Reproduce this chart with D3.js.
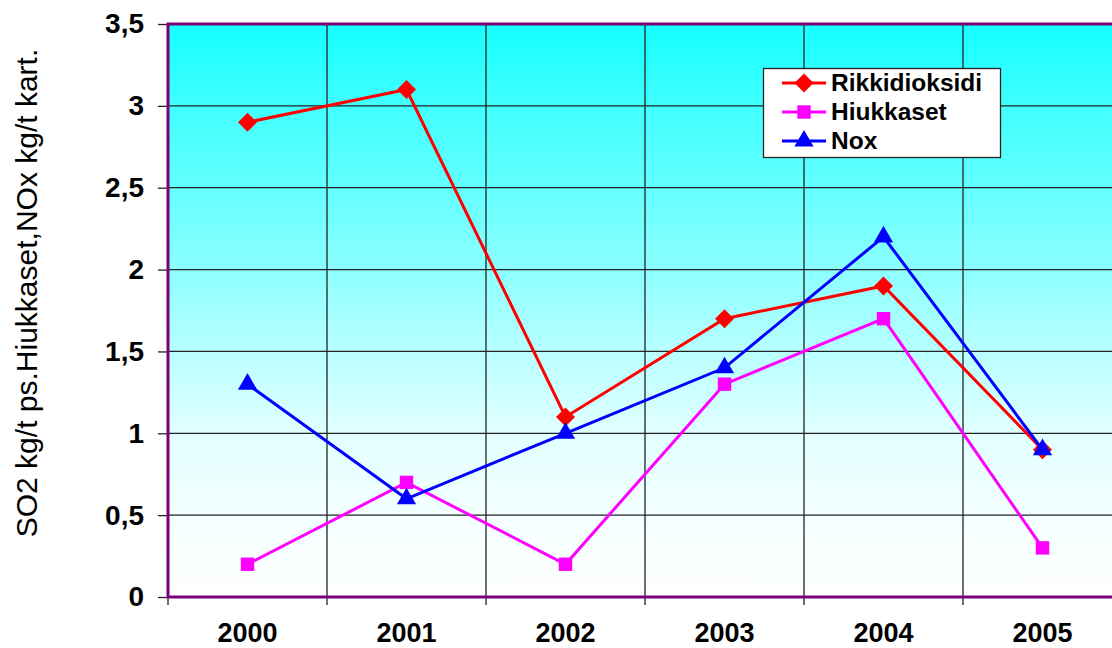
<!DOCTYPE html>
<html><head><meta charset="utf-8">
<script src="https://cdn.jsdelivr.net/npm/d3@7"></script>
<style>body{margin:0;background:#fff;}svg{display:block;}</style>
</head><body>
<svg id="c" width="1112" height="648"></svg>
<script>
const years = ["2000","2001","2002","2003","2004","2005"];
const rikki = [2.9, 3.1, 1.1, 1.7, 1.9, 0.9];
const hiukkaset = [0.2, 0.7, 0.2, 1.3, 1.7, 0.3];
const nox = [1.3, 0.6, 1.0, 1.4, 2.2, 0.9];
const yTicks = [0, 0.5, 1, 1.5, 2, 2.5, 3, 3.5];
const yTickLabels = ["0","0,5","1","1,5","2","2,5","3","3,5"];
const seriesNames = ["Rikkidioksidi","Hiukkaset","Nox"];

const series = [
  {name: seriesNames[0], values: rikki, color: "#ff0000", sym: d3.symbolDiamond2, size: 230},
  {name: seriesNames[1], values: hiukkaset, color: "#ff00ff", sym: d3.symbolSquare, size: 180},
  {name: seriesNames[2], values: nox, color: "#0000ff", sym: d3.symbolTriangle, size: 160}
];

const FONT = "Liberation Sans, Arial, sans-serif";
const svg = d3.select("#c");
const L = 168, T = 24, B = 597, bandW = 159;
const R = L + bandW * years.length;
const x = d3.scaleBand().domain(years).range([L, R]);
const y = d3.scaleLinear().domain([0, 3.5]).range([B, T]);

const defs = svg.append("defs");
const g = defs.append("linearGradient").attr("id","bg").attr("x1",0).attr("y1",0).attr("x2",0).attr("y2",1);
[["0%","#14ffff"],["14%","#40ffff"],["28%","#62ffff"],["43%","#8cffff"],["57%","#b8ffff"],["71%","#e0ffff"],["86%","#f4ffff"],["100%","#ffffff"]]
  .forEach(s=>g.append("stop").attr("offset",s[0]).attr("stop-color",s[1]));

svg.append("rect").attr("x",L).attr("y",T).attr("width",R-L).attr("height",B-T).attr("fill","url(#bg)");

// gridlines
svg.append("g").selectAll("line").data(yTicks.slice(1,-1)).join("line")
  .attr("x1",L).attr("x2",R).attr("y1",d=>y(d)).attr("y2",d=>y(d))
  .attr("stroke","#222").attr("stroke-width",1.3);
svg.append("g").selectAll("line").data(years.slice(1)).join("line")
  .attr("x1",d=>x(d)).attr("x2",d=>x(d)).attr("y1",T).attr("y2",B+8)
  .attr("stroke","#222").attr("stroke-width",1.3);
svg.append("line").attr("x1",L).attr("x2",L).attr("y1",B).attr("y2",B+8).attr("stroke","#222").attr("stroke-width",1.3);

// y ticks
const yAxis = d3.axisLeft(y).tickValues(yTicks).tickFormat((d,i)=>yTickLabels[i]).tickSize(10).tickPadding(14);
const ya = svg.append("g").attr("transform",`translate(${L},0)`).call(yAxis);
ya.attr("font-size",null).attr("font-family",null);
ya.select(".domain").remove();
ya.selectAll(".tick line").attr("stroke","#222").attr("stroke-width",1.3);
ya.selectAll(".tick text").style("font-family",FONT).style("font-size","28px").style("font-weight","bold").attr("fill","#000");

// x labels
const xAxis = d3.axisBottom(x).tickSize(0).tickPadding(26);
const xa = svg.append("g").attr("transform",`translate(0,${B})`).call(xAxis);
xa.select(".domain").remove();
xa.selectAll(".tick text").style("font-family",FONT).style("font-size","27px").style("font-weight","bold").attr("fill","#000");

// border
svg.append("path").attr("d",`M${R},${T}H${L}V${B}H${R}`).attr("fill","none").attr("stroke","#7a007a").attr("stroke-width",3);

// series
const line = d3.line().x((d,i)=>x(years[i])+x.bandwidth()/2).y(d=>y(d));
series.forEach(s=>{
  svg.append("path").datum(s.values).attr("d",line).attr("fill","none").attr("stroke",s.color).attr("stroke-width",3);
  svg.append("g").selectAll("path").data(s.values).join("path")
    .attr("transform",(d,i)=>`translate(${x(years[i])+x.bandwidth()/2},${y(d)})`)
    .attr("d",d3.symbol().type(s.sym).size(s.size))
    .attr("fill",s.color);
});

// legend
const lg = svg.append("g");
lg.append("rect").attr("x",763.5).attr("y",68.5).attr("width",237).attr("height",89).attr("fill","#fff").attr("stroke","#222").attr("stroke-width",1.3);
series.forEach((s,i)=>{
  const cy = 83 + i*29;
  lg.append("line").attr("x1",782).attr("x2",826).attr("y1",cy).attr("y2",cy).attr("stroke",s.color).attr("stroke-width",3);
  lg.append("path").attr("transform",`translate(804,${cy})`)
    .attr("d",d3.symbol().type(s.sym).size(s.size)).attr("fill",s.color);
  lg.append("text").attr("x",831).attr("y",cy+8).text(s.name)
    .style("font-family",FONT).style("font-size","24.5px").style("font-weight","bold").attr("fill","#000");
});

// y label
svg.append("text").attr("transform","translate(37,293) rotate(-90)").attr("text-anchor","middle")
  .style("font-family",FONT).style("font-size","30px").attr("fill","#000")
  .text("SO2 kg/t ps.Hiukkaset,NOx kg/t kart.");
</script>
</body></html>
